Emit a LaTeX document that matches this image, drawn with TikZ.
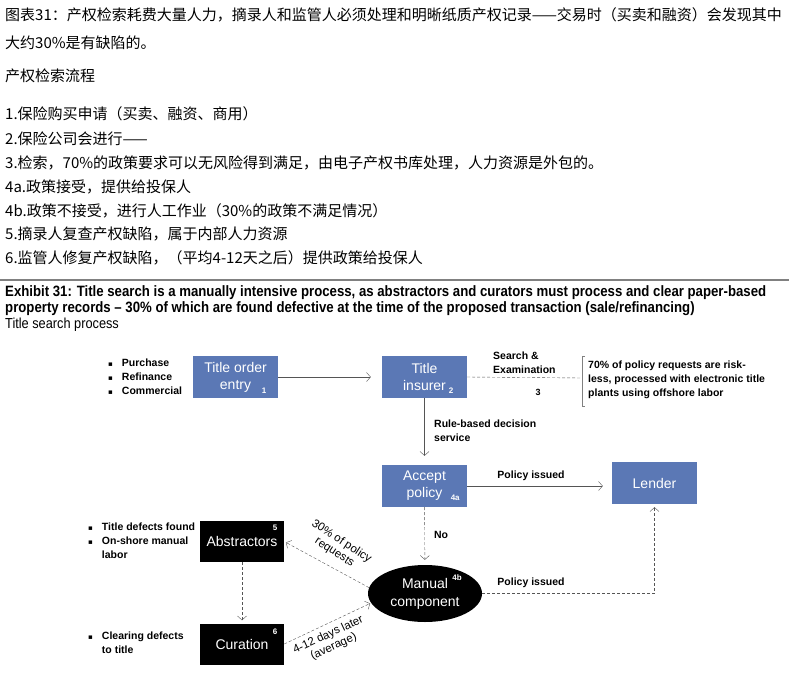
\documentclass[tikz,border=0pt]{standalone}
\usepackage{fontspec}
\setmainfont{Liberation Sans}
\newfontfamily\cjk{Noto Sans CJK SC}
\newfontfamily\narrowfont[FakeStretch=0.88]{Liberation Sans}
\newfontfamily\symfont{DejaVu Sans}
\usetikzlibrary{arrows.meta,positioning,shapes.geometric,calc}
\definecolor{boxblue}{RGB}{91,120,181}
\definecolor{linegrey}{RGB}{85,85,85}
\newcommand{\sqbullet}{{\symfont\fontsize{7}{7}\selectfont ▪}}
\tikzset{
    bluebox/.style={fill=boxblue, text=white, minimum width=85pt, minimum height=42pt,
        align=center, inner sep=0pt, font=\fontsize{14}{17}\selectfont},
    blackbox/.style={fill=black, text=white, minimum width=84pt, minimum height=41pt,
        inner sep=0pt, font=\fontsize{14}{17}\selectfont},
    note/.style={font=\bfseries\fontsize{10.5}{14}\selectfont, align=left, inner sep=0pt},
    num/.style={font=\bfseries\fontsize{8}{8}\selectfont, text=white, inner sep=0pt},
    slanted/.style={font=\fontsize{11.5}{13}\selectfont, align=center, inner sep=0pt},
    flow/.style={draw=linegrey, -{Straight Barb[length=4pt,width=9pt]}},
    dflow/.style={flow, dash pattern=on 3pt off 2pt},
    cnline/.style={font=\cjk\fontsize{15}{17}\selectfont, anchor=base west, inner sep=0pt},
    exhibit/.style={anchor=base west, inner sep=0pt, font=\narrowfont\bfseries\fontsize{15}{17}\selectfont}
}
\begin{document}
\begin{tikzpicture}[x=1pt, y=-1pt]
        \useasboundingbox (0,0) rectangle (789,679);
        % Chinese caption and steps
        \node [cnline] (cn1) at (5,21) {图表31：产权检索耗费大量人力，摘录人和监管人必须处理和明晰纸质产权记录——交易时（买卖和融资）会发现其中};
        \node [cnline] (cn2) at (5,49) {大约30\%是有缺陷的。};
        \node [cnline] (cn3) at (5,82) {产权检索流程};
        \node [cnline] (cn4) at (5,120) {1.保险购买申请（买卖、融资、商用）};
        \node [cnline] (cn5) at (5,145) {2.保险公司会进行——};
        \node [cnline] (cn6) at (5,168) {3.检索，70\%的政策要求可以无风险得到满足，由电子产权书库处理，人力资源是外包的。};
        \node [cnline] (cn7) at (5,193) {4a.政策接受，提供给投保人};
        \node [cnline] (cn8) at (5,216) {4b.政策不接受，进行人工作业（30\%的政策不满足情况）};
        \node [cnline] (cn9) at (5,239) {5.摘录人复查产权缺陷，属于内部人力资源};
        \node [cnline] (cn10) at (5,263) {6.监管人修复产权缺陷，（平均4-12天之后）提供政策给投保人};
        % Rule and exhibit title
        \draw [gray, line width=1.5pt] (0,280) -- (789,280);
        \node [exhibit] (exhibit1) at (5,296) {Exhibit 31: Title search is a manually intensive process, as abstractors and curators must process and clear paper-based};
        \node [exhibit] (exhibit2) at (5,312) {property records – 30\% of which are found defective at the time of the proposed transaction (sale/refinancing)};
        \node [anchor=base west, inner sep=0pt, font=\narrowfont\fontsize{14.5}{16}\selectfont] (subtitle) at (5,328) {Title search process};
        % Boxes
        \node [bluebox] (entry) at (235.5,377) {Title order\\entry};
        \node [bluebox] (insurer) at (424.5,377) {Title\\insurer\hspace{6pt}};
        \node [bluebox] (accept) at (424.5,486) {Accept\\policy\hspace{6pt}};
        \node [bluebox] (lender) at (654.5,483) {Lender};
        \node [blackbox] (abstractors) at (242,541.5) {Abstractors};
        \node [blackbox] (curation) at (242,644) {Curation};
        \node [ellipse, fill=black, text=white, minimum width=114pt, minimum height=57pt, inner sep=0pt,
            align=center, font=\fontsize{14}{18}\selectfont] (manual) at (425,593.5) {Manual\\component};
        % Step numbers
        \node [num] (n1) at ($(entry.south east)+(-14,-7)$) {1};
        \node [num] (n2) at ($(insurer.south east)+(-16,-7)$) {2};
        \node [num] (n4a) at ($(accept.south east)+(-12,-9)$) {4a};
        \node [num] (n5) at ($(abstractors.north east)+(-9,7)$) {5};
        \node [num] (n6) at ($(curation.north east)+(-9,8)$) {6};
        \node [num] (n4b) at (457,578) {4b};
        % Connectors
        \draw [flow, shorten >=11pt] (entry) -- (insurer);
        \draw [flow, shorten >=9pt] (insurer) -- (accept);
        \draw [flow, shorten >=9pt] (accept.east) -- (accept.east -| lender.west);
        \draw [dflow, shorten >=5pt] (accept) -- (manual);
        \draw [dflow, shorten >=3pt] (manual.east) -| (lender.south);
        \draw [dflow, shorten >=3pt] (abstractors) -- (curation);
        \draw [dflow, shorten >=2pt] (manual.174) -- (abstractors.east);
        \draw [dflow, shorten >=1pt] (curation.east) -- (manual.190);
        % Search line and bracket
        \coordinate (brk) at (582,378);
        \draw [linegrey, dash pattern=on 3pt off 2pt] (insurer.east) -- (brk);
        \draw [gray] (585,356) -- (582,356) -- (582,406) -- (585,406);
        % Labels
        \node [note, anchor=north west] (search) at (493,352) {Search \&\\Examination};
        \node [note, font=\bfseries\fontsize{9}{9}\selectfont] (n3) at (538,392) {3};
        \node [note, anchor=west] (riskless) at (588,380) {70\% of policy requests are risk-\\less, processed with electronic title\\plants using offshore labor};
        \node [note, anchor=north west] (rule) at (434,420) {Rule-based decision\\service};
        \node [note] (issued1) at (531,476) {Policy issued};
        \node [note] (no) at (441,535) {No};
        \node [note] (issued2) at (531,583) {Policy issued};
        \node [slanted, rotate=-33] (thirty) at (338,547) {30\% of policy\\requests};
        \node [slanted, rotate=25] (days) at (331,641) {4-12 days later\\(average)};
        % Bullet lists
        \node [note, anchor=west] (kinds) at (108,378) {\begin{tabular}{@{}l@{\hspace{9pt}}l@{}}
            \sqbullet & Purchase\\ \sqbullet & Refinance\\ \sqbullet & Commercial\end{tabular}};
        \node [note, anchor=west] (defects) at (88,542) {\begin{tabular}{@{}l@{\hspace{9pt}}l@{}}
            \sqbullet & Title defects found\\ \sqbullet & On-shore manual\\ & labor\end{tabular}};
        \node [note, anchor=west] (clearing) at (88,644) {\begin{tabular}{@{}l@{\hspace{9pt}}l@{}}
            \sqbullet & Clearing defects\\ & to title\end{tabular}};
\end{tikzpicture}
\end{document}
